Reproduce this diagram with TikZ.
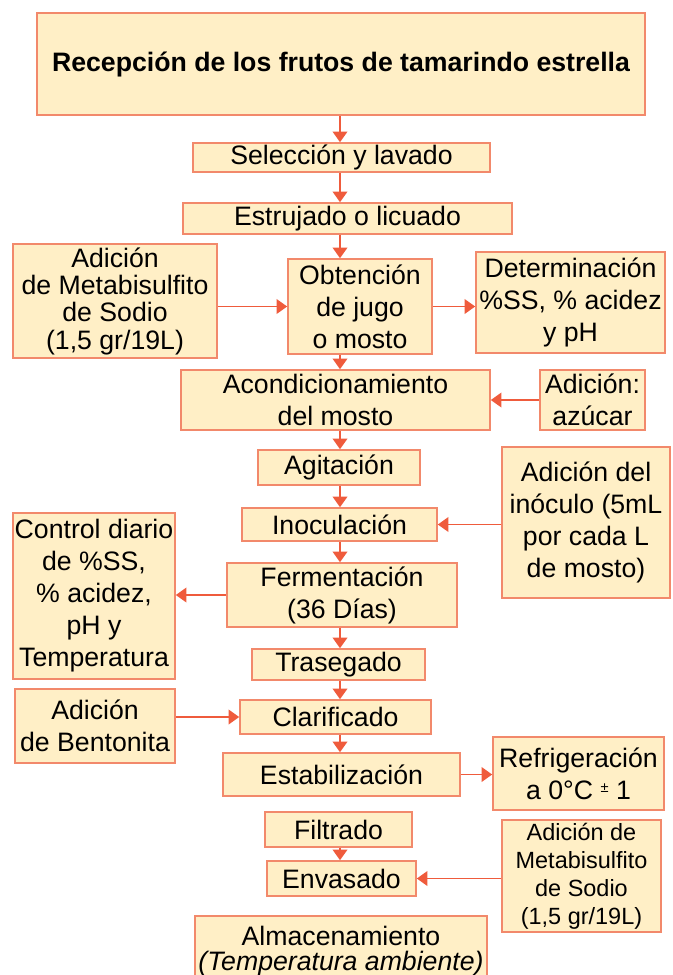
\documentclass[tikz,border=0pt]{standalone}
\usepackage{fontspec}
\setmainfont{Liberation Sans}
\usetikzlibrary{positioning,arrows.meta}
\definecolor{boxfill}{HTML}{FFEFC6}
\definecolor{boxline}{HTML}{F2896B}
\definecolor{flecha}{HTML}{EF5B3C}
\tikzset{
  paso/.style={draw=boxline, fill=boxfill, line width=1.2pt, align=center, inner sep=0pt,
    font=\fontsize{20}{24}\selectfont},
  sz/.style 2 args={minimum width=#1*0.75pt, minimum height=#2*0.75pt},
  flujo/.style={draw=flecha, line width=1.4pt, -{Triangle[length=8pt,width=11pt]}}
}

\begin{document}
\begin{tikzpicture}[x=0.75pt,y=-0.75pt]
  \useasboundingbox (0,0) rectangle (673,975);
  % Main line
  \node[paso, sz={608}{102}, font=\fontsize{20}{24}\selectfont\bfseries] (recep) at (341,64) {Recepción de los frutos de tamarindo estrella};
  \node[paso, sz={297}{29}] (sel) at (341.5,157.5) {Selección y lavado};
  \node[paso, sz={329}{31}] (estr) at (347.5,218.5) {Estrujado o licuado};
  \node[paso, sz={144}{95}] (obt) at (360,306.5) {Obtención\\ de jugo\\ o mosto};
  \node[paso, sz={309}{60}] (acond) at (335.5,400) {Acondicionamiento\\ del mosto};
  \node[paso, sz={162}{35}] (agit) at (339,467.5) {Agitación};
  \node[paso, sz={195}{33}] (inoc) at (339.5,524.5) {Inoculación};
  \node[paso, sz={230}{64}] (ferm) at (342,595) {Fermentación\\ (36 Días)};
  \node[paso, sz={173}{31}] (tras) at (338.5,664.5) {Trasegado};
  \node[paso, sz={191}{34}] (clar) at (335.5,717) {Clarificado};
  \node[paso, sz={237}{43}] (estab) at (341.5,774.5) {Estabilización};
  \node[paso, sz={147}{35}] (filt) at (338.5,829.5) {Filtrado};
  \node[paso, sz={149}{35}] (envas) at (341.5,878.5) {Envasado};
  \node[paso, sz={292}{70}, font=\fontsize{20}{19}\selectfont] (almac) at (341,951) {Almacenamiento\\ \textit{(Temperatura ambiente)}};
  % Side boxes
  \node[paso, sz={204}{114}, font=\fontsize{20}{20.5}\selectfont] (metaL) at (115,301) {Adición\\ de Metabisulfito\\ de Sodio\\ (1,5 gr/19L)};
  \node[paso, sz={189}{101}] (det) at (570.5,302.5) {Determinación\\ \%SS, \% acidez\\ y pH};
  \node[paso, sz={105}{60}] (azuc) at (592.5,400) {Adición:\\ azúcar};
  \node[paso, sz={168}{151}] (inocul) at (586,522.5) {Adición del\\ inóculo (5mL\\ por cada L\\ de mosto)};
  \node[paso, sz={162}{166}] (control) at (94,596) {Control diario\\ de \%SS,\\ \% acidez,\\ pH y\\ Temperatura};
  \node[paso, sz={160}{74}] (bent) at (95,726) {Adición\\ de Bentonita};
  \node[paso, sz={171}{73}] (refr) at (578.5,773.5) {Refrigeración\\ a 0°C {\fontsize{11}{11}\selectfont\raisebox{0.45em}{±}} 1};
  \node[paso, sz={159}{112}, font=\fontsize{17.6}{21}\selectfont] (metaR) at (581.5,876) {Adición de\\ Metabisulfito\\ de Sodio\\ (1,5 gr/19L)};
  % Arrows
  \coordinate (eje) at (340,0);
  \foreach \a/\b in {recep/sel, sel/estr, estr/obt, obt/acond, acond/agit, agit/inoc,
                     inoc/ferm, ferm/tras, tras/clar, clar/estab, filt/envas}
    \draw[flujo] (\a.south -| eje) -- (\b.north -| eje);
  \draw[flujo] (metaL.east |- obt.west) -- (obt.west);
  \draw[flujo] (obt.east) -- (det.west |- obt.east);
  \draw[flujo] (azuc.west) -- (acond.east);
  \draw[flujo] (inocul.west |- inoc.east) -- (inoc.east);
  \draw[flujo] (ferm.west) -- (control.east |- ferm.west);
  \draw[flujo] (bent.east |- clar.west) -- (clar.west);
  \draw[flujo] (estab.east) -- (refr.west |- estab.east);
  \draw[flujo] (metaR.west |- envas.east) -- (envas.east);
\end{tikzpicture}
\end{document}
